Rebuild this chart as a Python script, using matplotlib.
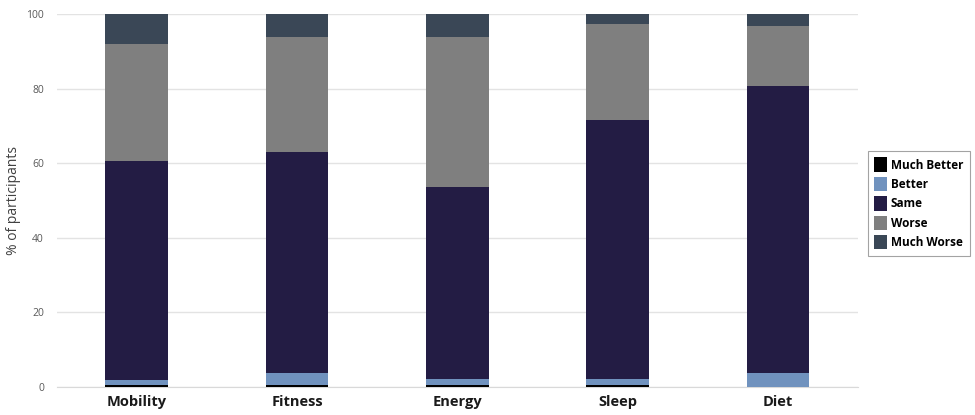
import matplotlib
matplotlib.use("Agg")
import matplotlib.pyplot as plt
import numpy as np

categories = ["Mobility", "Fitness", "Energy", "Sleep", "Diet"]
much_better = [0.5, 0.5, 0.5, 0.5, 0.0]
better = [1.4, 3.3, 1.5, 1.5, 3.8]
same = [58.6, 59.1, 51.5, 69.5, 76.8]
worse = [31.5, 30.9, 40.3, 25.8, 16.1]
much_worse = [8.0, 6.2, 6.2, 2.7, 3.3]

series = ["Much Better", "Better", "Same", "Worse", "Much Worse"]
colors = ["#000000", "#7092be", "#231c44", "#7f7f7f", "#3a4756"]

plt.rcParams["font.family"] = ["Open Sans", "DejaVu Sans"]

fig = plt.figure(figsize=(9.75, 4.15), dpi=100)
ax = fig.add_axes([0.058, 0.068, 0.822, 0.898])

x = np.arange(len(categories))
bottom = np.zeros(len(categories))
handles = []
for name, vals, col in zip(series, [much_better, better, same, worse, much_worse], colors):
    v = np.array(vals)
    h = ax.bar(x, v, width=0.39, bottom=bottom, color=col, label=name, zorder=3, linewidth=0)
    handles.append(h)
    bottom += v

ax.set_xlim(-0.5, 4.5)
ax.set_ylim(0, 100)
ax.set_yticks([0, 20, 40, 60, 80, 100])
ax.yaxis.grid(True, color="#e3e3e3", linewidth=1, zorder=0)
ax.set_axisbelow(True)
for s in ["top", "right", "left"]:
    ax.spines[s].set_visible(False)
ax.spines["bottom"].set_color("#d9d9d9")
ax.tick_params(axis="both", length=0)
ax.tick_params(axis="y", labelsize=7.5, labelcolor="#595959", pad=9)
ax.set_xticks(x)
ax.set_xticklabels(categories, fontsize=10.5, fontweight="bold", color="#1a1a1a")
ax.tick_params(axis="x", pad=6)
ax.set_ylabel("% of participants", fontsize=10, color="#404040", labelpad=4)

leg = fig.legend(handles=handles, labels=series, loc="center left",
                 bbox_to_anchor=(0.890, 0.51), frameon=True, fancybox=False,
                 edgecolor="#8c8c8c", handlelength=1.1, handleheight=1.5,
                 handletextpad=0.3, labelspacing=0.42, borderpad=0.55,
                 borderaxespad=0.0,
                 prop={"size": 8.5, "weight": "bold"})
leg.get_frame().set_linewidth(0.8)

fig.savefig("out.png", dpi=100)
